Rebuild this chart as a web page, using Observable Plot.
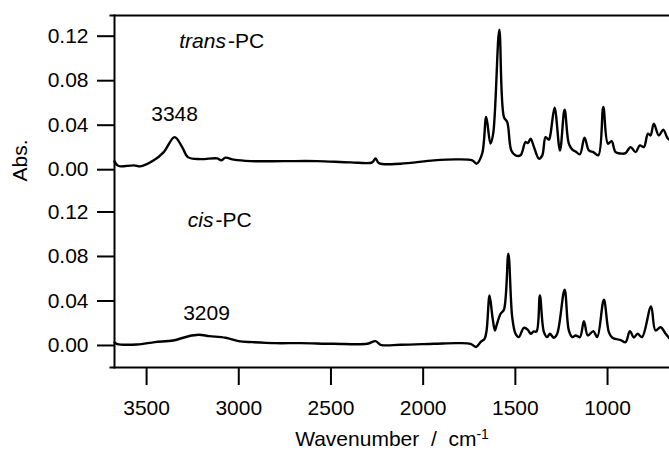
<!DOCTYPE html>
<html>
<head>
<meta charset="utf-8">
<script src="https://cdn.jsdelivr.net/npm/d3@7"></script>
<script src="https://cdn.jsdelivr.net/npm/@observablehq/plot@0.6"></script>
<style>
  html, body { margin: 0; padding: 0; background: #fff; }
  svg text { white-space: pre; }
</style>
</head>
<body>
<div id="chart"></div>
<script>
// ---- data ----
const transWavenumber = [3674,3658,3641,3569,3533,3461,3407,3348,3307,3276,3208,3117,3095,3072,3027,2936,2756,2575,2394,2276,2258,2240,2123,1942,1815,1734,1710,1680,1658,1635,1620,1587,1562,1544,1522,1499,1472,1445,1432,1417,1399,1372,1354,1336,1318,1309,1287,1258,1233,1210,1191,1173,1150,1125,1101,1077,1050,1023,998,978,956,920,902,875,848,825,803,781,767,749,722,698,676,664];
const transAbs = [0.0075,0.0039,0.0030,0.0039,0.0030,0.0084,0.0158,0.0293,0.0203,0.0113,0.0095,0.0102,0.0084,0.0108,0.0090,0.0077,0.0077,0.0077,0.0066,0.0066,0.0102,0.0059,0.0054,0.0084,0.0093,0.0084,0.0054,0.0144,0.0473,0.0234,0.0326,0.1258,0.0473,0.0428,0.0173,0.0129,0.0129,0.0248,0.0239,0.0279,0.0203,0.0099,0.0129,0.0293,0.0270,0.0324,0.0557,0.0173,0.0539,0.0234,0.0180,0.0164,0.0138,0.0288,0.0173,0.0158,0.0129,0.0563,0.0234,0.0257,0.0158,0.0144,0.0149,0.0203,0.0158,0.0218,0.0203,0.0324,0.0308,0.0413,0.0308,0.0360,0.0288,0.0270];

const cisWavenumber = [3674,3662,3553,3455,3356,3277,3218,3159,3071,3002,2923,2805,2665,2484,2303,2258,2231,2123,1942,1815,1743,1712,1689,1667,1656,1640,1624,1611,1602,1580,1562,1538,1517,1499,1481,1454,1432,1417,1400,1385,1367,1345,1327,1313,1291,1273,1233,1210,1191,1173,1150,1128,1107,1077,1056,1020,993,974,929,902,879,857,837,813,764,740,712,685,664];
const cisAbs = [0.0027,0.0015,0.0009,0.0030,0.0045,0.0081,0.0096,0.0084,0.0069,0.0039,0.0030,0.0021,0.0021,0.0015,0.0015,0.0039,0.0006,0.0006,0.0015,0.0021,0.0015,-0.0013,0.0030,0.0060,0.0135,0.0449,0.0254,0.0135,0.0180,0.0285,0.0321,0.0824,0.0254,0.0105,0.0075,0.0159,0.0141,0.0105,0.0126,0.0126,0.0449,0.0120,0.0075,0.0105,0.0069,0.0105,0.0501,0.0135,0.0075,0.0090,0.0075,0.0218,0.0090,0.0129,0.0075,0.0411,0.0120,0.0069,0.0049,0.0030,0.0129,0.0072,0.0105,0.0075,0.0351,0.0135,0.0164,0.0105,0.0063];

const xTickValues = [3500, 3000, 2500, 2000, 1500, 1000];
const yTickValues = [0, 0.04, 0.08, 0.12];
const yTickLabels = ["0.00", "0.04", "0.08", "0.12"];
const seriesNames = ["trans", "cis"];
const peakLabels = ["3348", "3209"];

// ---- layout of the stacked panels ----
const offset = 0.158; // vertical offset of the upper (trans) spectrum
const transData = transWavenumber.map((w, i) => ({w, a: transAbs[i] + offset}));
const cisData = cisWavenumber.map((w, i) => ({w, a: cisAbs[i]}));

const allTicks = [...yTickValues, ...yTickValues.map(v => v + offset)];
const tickLabel = v => {
  const i = allTicks.findIndex(t => Math.abs(t - v) < 1e-9);
  return yTickLabels[i % yTickLabels.length];
};

const font = 21;

const plot = Plot.plot({
  width: 669,
  height: 455,
  marginLeft: 114,
  marginRight: 0,
  marginTop: 15,
  marginBottom: 88,
  style: {fontFamily: "'Liberation Sans', Arial, Helvetica, sans-serif", fontSize: font + "px", color: "black", background: "white"},
  x: {domain: [3674, 664]},
  y: {domain: [-0.0198, 0.2966]},
  marks: [
    Plot.axisY({ticks: allTicks, tickFormat: tickLabel, tickSize: 17, tickPadding: 9, strokeWidth: 2, label: null}),
    Plot.axisX({ticks: xTickValues, tickFormat: d => String(d), tickSize: 18, tickPadding: 15, strokeWidth: 2, label: null}),
    Plot.frame({anchor: "top", strokeWidth: 2, insetLeft: -4}),
    Plot.frame({anchor: "bottom", strokeWidth: 2, insetLeft: -4}),
    Plot.frame({anchor: "left", strokeWidth: 2}),
    Plot.line(transData, {x: "w", y: "a", stroke: "black", strokeWidth: 2.4, curve: "catmull-rom"}),
    Plot.line(cisData, {x: "w", y: "a", stroke: "black", strokeWidth: 2.4, curve: "catmull-rom"}),
    // series names: italic prefix + "-PC"
    Plot.text([seriesNames[0]], {x: 3064, y: 0.2736, text: d => d, textAnchor: "end", fontStyle: "italic", dx: -1}),
    Plot.text(["-PC"], {x: 3064, y: 0.2736, text: d => d, textAnchor: "start", dx: 1}),
    Plot.text([seriesNames[1]], {x: 3132, y: 0.1124, text: d => d, textAnchor: "end", fontStyle: "italic", dx: -1}),
    Plot.text(["-PC"], {x: 3132, y: 0.1124, text: d => d, textAnchor: "start", dx: 1}),
    // peak labels
    Plot.text([peakLabels[0]], {x: 3348, y: 0.2076, text: d => d}),
    Plot.text([peakLabels[1]], {x: 3175, y: 0.0291, text: d => d}),
    // axis titles
    Plot.text(["Abs."], {frameAnchor: "left", dx: -94, dy: -10, rotate: -90, text: d => d}),
    Plot.text(["Wavenumber  /  cm"], {frameAnchor: "bottom", dy: 78, text: d => d})
  ]
});

// superscript on the x title
d3.select(plot).selectAll("text").each(function() {
  const t = d3.select(this);
  if (t.text() === "Wavenumber  /  cm") {
    t.append("tspan").attr("dy", "-0.5em").attr("font-size", "14px").text("-1");
  }
});

document.getElementById("chart").appendChild(plot);
</script>
</body>
</html>
